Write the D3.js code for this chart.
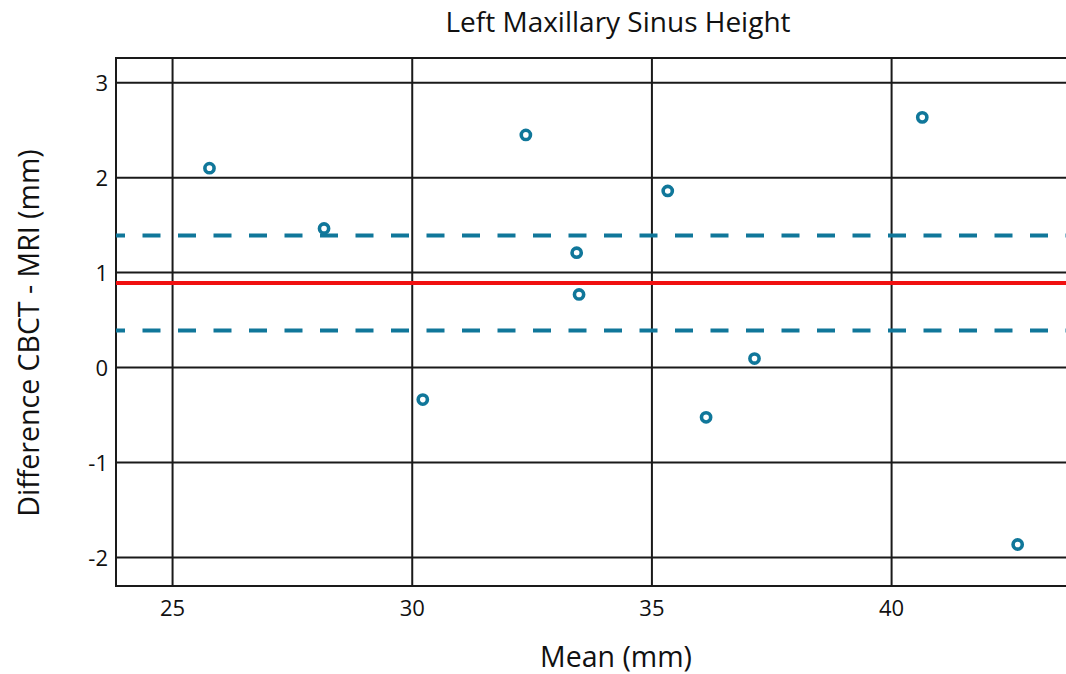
<!DOCTYPE html>
<html>
<head>
<meta charset="utf-8">
<script src="https://cdn.jsdelivr.net/npm/d3@7"></script>
<style>
  body { margin: 0; background: #fff; }
  text { font-family: "Open Sans", "Noto Sans", sans-serif; fill: #111; }
</style>
</head>
<body>
<div id="chart"></div>
<script>
// data
let meanVals = [25.77, 28.16, 32.37, 35.33, 33.43, 33.48, 30.22, 36.13, 37.14, 40.64, 42.63];
let diffVals = [2.10, 1.465, 2.45, 1.86, 1.21, 0.77, -0.337, -0.524, 0.095, 2.635, -1.863];
let biasLine = 0.89;
let limitLines = [1.39, 0.39];
let xTicks = [25, 30, 35, 40];
let yTicks = [-2, -1, 0, 1, 2, 3];

let width = 1066;
let height = 674;
let margin = { top: 58, right: -2, bottom: 88, left: 116 };

let svg = d3.select("#chart")
    .append("svg")
    .attr("width", width)
    .attr("height", height);

let x = d3.scaleLinear()
    .domain([23.82, 43.68])
    .range([margin.left, width - margin.right]);

let y = d3.scaleLinear()
    .domain([-2.30, 3.26])
    .range([height - margin.bottom, margin.top]);

let g = svg.append("g");

// grid lines
g.selectAll(".vgrid")
    .data(xTicks)
    .enter()
    .append("line")
    .attr("x1", d => x(d))
    .attr("x2", d => x(d))
    .attr("y1", y.range()[1])
    .attr("y2", y.range()[0])
    .attr("stroke", "#1a1a1a")
    .attr("stroke-width", 2);

g.selectAll(".hgrid")
    .data(yTicks)
    .enter()
    .append("line")
    .attr("x1", x.range()[0])
    .attr("x2", x.range()[1])
    .attr("y1", d => y(d))
    .attr("y2", d => y(d))
    .attr("stroke", "#1a1a1a")
    .attr("stroke-width", 2);

// frame
g.append("rect")
    .attr("x", x.range()[0])
    .attr("y", y.range()[1])
    .attr("width", x.range()[1] - x.range()[0])
    .attr("height", y.range()[0] - y.range()[1])
    .attr("fill", "none")
    .attr("stroke", "#1a1a1a")
    .attr("stroke-width", 2);

// bias and limits
g.append("line")
    .attr("x1", x.range()[0])
    .attr("x2", x.range()[1])
    .attr("y1", y(biasLine))
    .attr("y2", y(biasLine))
    .attr("stroke", "#f01010")
    .attr("stroke-width", 4);

g.selectAll(".limit")
    .data(limitLines)
    .enter()
    .append("line")
    .attr("x1", x.range()[0])
    .attr("x2", x.range()[1])
    .attr("y1", d => y(d))
    .attr("y2", d => y(d))
    .attr("stroke", "#10779a")
    .attr("stroke-width", 4)
    .attr("stroke-dasharray", "18,17.5")
    .attr("stroke-dashoffset", 9);

// points
let pts = meanVals.map((m, i) => ({ m: m, d: diffVals[i] }));
g.selectAll(".pt")
    .data(pts)
    .enter()
    .append("circle")
    .attr("cx", d => x(d.m))
    .attr("cy", d => y(d.d))
    .attr("r", 4.6)
    .attr("fill", "#fff")
    .attr("stroke", "#10779a")
    .attr("stroke-width", 3.6);

// tick labels
svg.selectAll(".xlab")
    .data(xTicks)
    .enter()
    .append("text")
    .attr("x", d => x(d))
    .attr("y", 616)
    .attr("text-anchor", "middle")
    .style("font-size", "22px")
    .text(d => d);

svg.selectAll(".ylab")
    .data(yTicks)
    .enter()
    .append("text")
    .attr("x", 108)
    .attr("y", d => y(d) + 8)
    .attr("text-anchor", "end")
    .style("font-size", "22px")
    .text(d => d);

// titles
svg.append("text")
    .attr("x", 618)
    .attr("y", 32)
    .attr("text-anchor", "middle")
    .style("font-size", "28px")
    .text("Left Maxillary Sinus Height");

svg.append("text")
    .attr("x", 616)
    .attr("y", 667)
    .attr("text-anchor", "middle")
    .style("font-size", "28.5px")
    .text("Mean (mm)");

svg.append("text")
    .attr("transform", "rotate(-90)")
    .attr("x", -333)
    .attr("y", 39)
    .attr("text-anchor", "middle")
    .style("font-size", "28.5px")
    .text("Difference CBCT - MRI (mm)");
</script>
</body>
</html>
